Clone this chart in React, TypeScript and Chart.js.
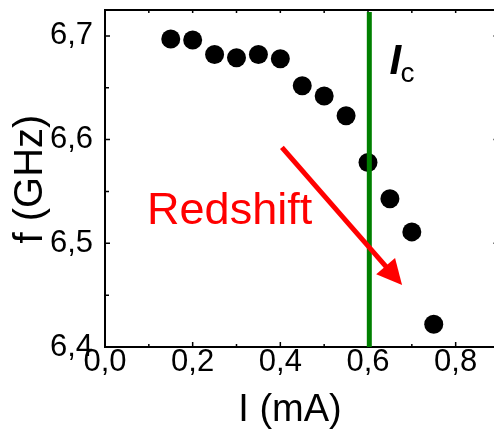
import React, { useEffect, useRef } from "react";
import { Chart, registerables } from "chart.js";

Chart.register(...registerables);

// ---- data ----
const currents = [0.15, 0.2, 0.25, 0.3, 0.35, 0.4, 0.45, 0.5, 0.55, 0.6, 0.65, 0.7, 0.75];
const freqs = [6.697, 6.696, 6.682, 6.679, 6.682, 6.678, 6.652, 6.642, 6.623, 6.578, 6.543, 6.511, 6.422];
const criticalCurrent = 0.603;
const xTickValues = [0, 0.2, 0.4, 0.6, 0.8];
const xMinorValues = [0.1, 0.3, 0.5, 0.7];
const yTickValues = [6.4, 6.5, 6.6, 6.7];
const yMinorValues = [6.45, 6.55, 6.65];
const xRange = [0, 0.9];
const yRange = [6.4, 6.725];
const arrowStart = { x: 0.4036, y: 6.5926 };
const arrowEnd = { x: 0.6777, y: 6.4598 };
const redshiftLabel = { text: "Redshift", x: 0.096, y: 6.5182 };
const icLabel = { main: "I", sub: "c", x: 0.649, y: 6.6633, subX: 0.674, subY: 6.6556 };
const xTitle = "I (mA)";
const yTitle = "f (GHz)";

const FONT = "'Liberation Sans', Arial, sans-serif";
const fmt = (v: number) => v.toFixed(1).replace(".", ",");

const framePlugin = {
  id: "frame",
  beforeDatasetsDraw(chart: any) {
    const { ctx, chartArea, scales } = chart;
    const { left, right, top, bottom } = chartArea;
    const x = scales.x, y = scales.y;
    ctx.save();
    ctx.strokeStyle = "#000";
    ctx.lineWidth = 2;
    ctx.beginPath();
    ctx.moveTo(left, top);
    ctx.lineTo(left, bottom);
    ctx.lineTo(right, bottom);
    ctx.lineTo(right, top);
    ctx.closePath();
    ctx.stroke();
    ctx.lineWidth = 1.5;
    ctx.beginPath();
    xTickValues.forEach((v) => {
      const px = x.getPixelForValue(v);
      ctx.moveTo(px, bottom);
      ctx.lineTo(px, bottom - 5);
      ctx.moveTo(px, top);
      ctx.lineTo(px, top + 3);
    });
    xMinorValues.forEach((v) => {
      const px = x.getPixelForValue(v);
      ctx.moveTo(px, bottom);
      ctx.lineTo(px, bottom - 3);
      ctx.moveTo(px, top);
      ctx.lineTo(px, top + 3);
    });
    yTickValues.forEach((v) => {
      const py = y.getPixelForValue(v);
      ctx.moveTo(left, py);
      ctx.lineTo(left + 5, py);
      ctx.moveTo(right, py);
      ctx.lineTo(right - 6, py);
    });
    yMinorValues.forEach((v) => {
      const py = y.getPixelForValue(v);
      ctx.moveTo(left, py);
      ctx.lineTo(left + 4, py);
    });
    ctx.stroke();
    ctx.restore();
  },
  afterDatasetsDraw(chart: any) {
    const { ctx, chartArea, scales } = chart;
    const x = scales.x, y = scales.y;
    ctx.save();
    // arrow
    const x0 = x.getPixelForValue(arrowStart.x), y0 = y.getPixelForValue(arrowStart.y);
    const x1 = x.getPixelForValue(arrowEnd.x), y1 = y.getPixelForValue(arrowEnd.y);
    const ang = Math.atan2(y1 - y0, x1 - x0);
    const headLen = 25, headHalf = 12.5;
    const bx = x1 - headLen * Math.cos(ang), by = y1 - headLen * Math.sin(ang);
    ctx.strokeStyle = "#ff0000";
    ctx.fillStyle = "#ff0000";
    ctx.lineWidth = 5;
    ctx.beginPath();
    ctx.moveTo(x0, y0);
    ctx.lineTo(bx + 2 * Math.cos(ang), by + 2 * Math.sin(ang));
    ctx.stroke();
    ctx.beginPath();
    ctx.moveTo(x1, y1);
    ctx.lineTo(bx + headHalf * Math.sin(ang), by - headHalf * Math.cos(ang));
    ctx.lineTo(bx - headHalf * Math.sin(ang), by + headHalf * Math.cos(ang));
    ctx.closePath();
    ctx.fill();
    // Redshift text
    ctx.font = `45px ${FONT}`;
    ctx.textAlign = "left";
    ctx.textBaseline = "alphabetic";
    ctx.fillText(redshiftLabel.text, x.getPixelForValue(redshiftLabel.x), y.getPixelForValue(redshiftLabel.y));
    // I_c
    ctx.fillStyle = "#000";
    ctx.font = `italic bold 42px ${FONT}`;
    ctx.fillText(icLabel.main, x.getPixelForValue(icLabel.x), y.getPixelForValue(icLabel.y));
    ctx.font = `28px ${FONT}`;
    ctx.fillText(icLabel.sub, x.getPixelForValue(icLabel.subX), y.getPixelForValue(icLabel.subY));
    // axis titles
    ctx.font = `38px ${FONT}`;
    ctx.textAlign = "center";
    ctx.fillText(xTitle, chartArea.left + 185, chartArea.bottom + 74);
    ctx.save();
    ctx.translate(42, chartArea.top + 169);
    ctx.rotate(-Math.PI / 2);
    ctx.font = `40px ${FONT}`;
    ctx.fillText(yTitle, 0, 0);
    ctx.restore();
    ctx.restore();
  },
};

export default function App() {
  const ref = useRef<HTMLCanvasElement>(null);
  useEffect(() => {
    if (!ref.current) return;
    const chart = new Chart(ref.current, {
      type: "scatter",
      data: {
        datasets: [
          {
            type: "line",
            data: [
              { x: criticalCurrent, y: yRange[0] },
              { x: criticalCurrent, y: 6.723 },
            ],
            borderColor: "rgb(0,128,0)",
            borderWidth: 5,
            pointRadius: 0,
            showLine: true,
            fill: false,
          } as any,
          {
            data: currents.map((c, i) => ({ x: c, y: freqs[i] })),
            backgroundColor: "#000",
            borderWidth: 0,
            pointRadius: 9.5,
          },
        ],
      },
      options: {
        responsive: false,
        animation: false,
        devicePixelRatio: 1,
        layout: { padding: { top: 10, left: 0, right: 0, bottom: 0 } },
        plugins: { legend: { display: false }, tooltip: { enabled: false } },
        scales: {
          x: {
            type: "linear",
            min: xRange[0],
            max: xRange[1],
            grid: { display: false, drawTicks: false },
            border: { display: false },
            afterBuildTicks: (s: any) => {
              s.ticks = xTickValues.map((v) => ({ value: v }));
            },
            afterFit: (s: any) => {
              s.height = 83;
              s.paddingLeft = 0;
              s.paddingRight = 0;
            },
            ticks: {
              padding: -3,
              maxRotation: 0,
              autoSkip: false,
              color: "#000",
              font: { family: FONT, size: 31 },
              callback: (v: any) => fmt(Number(v)),
            },
          },
          y: {
            type: "linear",
            min: yRange[0],
            max: yRange[1],
            grid: { display: false, drawTicks: false },
            border: { display: false },
            afterBuildTicks: (s: any) => {
              s.ticks = yTickValues.map((v) => ({ value: v }));
            },
            afterFit: (s: any) => {
              s.width = 105;
              s.paddingTop = 0;
              s.paddingBottom = 0;
            },
            ticks: {
              padding: 12,
              color: "#000",
              font: { family: FONT, size: 31 },
              callback: (v: any) => fmt(Number(v)),
            },
          },
        },
      },
      plugins: [framePlugin],
    });
    return () => chart.destroy();
  }, []);
  return (
    <div
      style={{
        position: "absolute",
        left: 0,
        top: 0,
        width: 494,
        height: 430,
        overflow: "hidden",
        background: "#fff",
      }}
    >
      <canvas ref={ref} width={509} height={430} style={{ width: 509, height: 430, display: "block" }} />
    </div>
  );
}
